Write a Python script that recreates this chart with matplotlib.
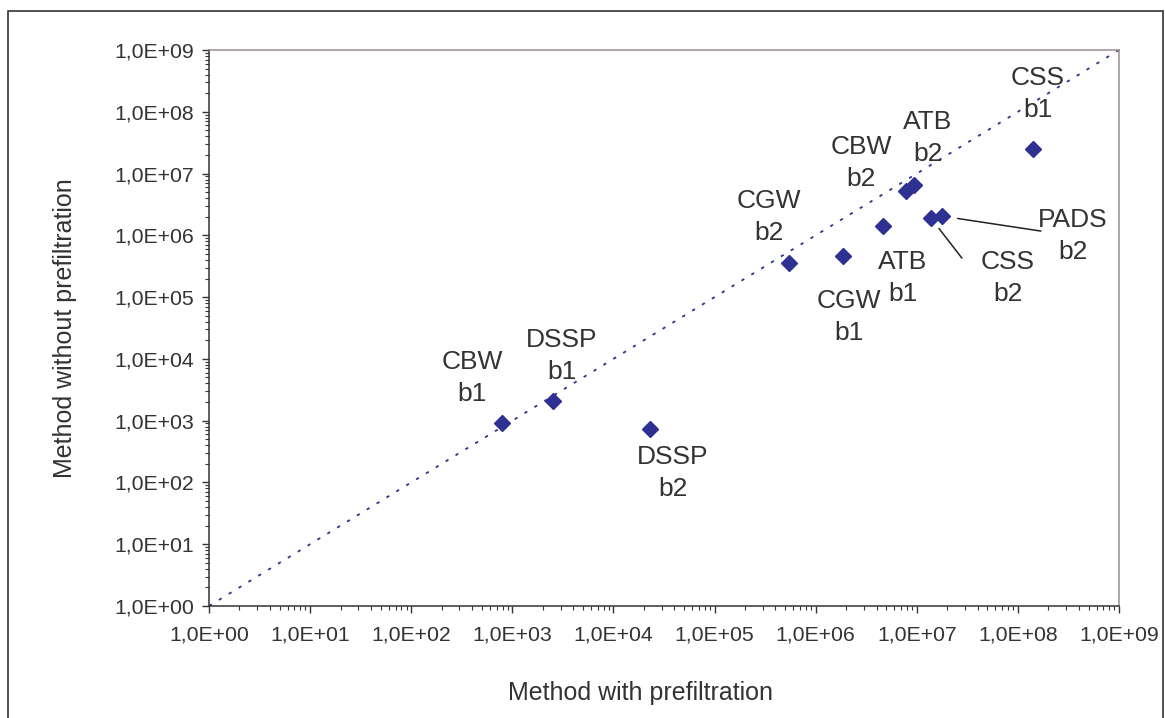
import matplotlib
matplotlib.use("Agg")
import matplotlib.pyplot as plt
import numpy as np
from matplotlib.ticker import FixedLocator, FuncFormatter, LogLocator, NullFormatter
from matplotlib.patches import Rectangle

plt.rcParams['font.family'] = ['Liberation Sans', 'DejaVu Sans']

# ---- data ----
labels = ["CBW\nb1", "DSSP\nb1", "DSSP\nb2", "CGW\nb2", "CGW\nb1", "ATB\nb1",
          "CBW\nb2", "ATB\nb2", "CSS\nb2", "PADS\nb2", "CSS\nb1"]
with_prefiltration = [7.9e2, 2.5e3, 2.3e4, 5.4e5, 1.85e6, 4.6e6,
                      7.8e6, 9.3e6, 1.38e7, 1.77e7, 1.41e8]
without_prefiltration = [9.2e2, 2.1e3, 7.3e2, 3.6e5, 4.6e5, 1.4e6,
                         5.2e6, 6.5e6, 1.9e6, 2.05e6, 2.5e7]
diag = [1e0, 1e9]
tick_values = [10.0 ** k for k in range(0, 10)]

# label offsets (pixels) from each point: (dx, dy)
label_offsets = [(-30, 45), (9, 45), (23, -44), (-20, 46), (6, -61), (20, -52),
                 (-45, 28), (14, 47), (77, -60), (131, -20), (5, 55)]
# leader lines: index -> (end offset px, shrink at point in pt)
leaders = {8: ((31, -40), 9.5), 9: ((99, -15), 11.5)}

navy = "#2E3192"
textc = "#333333"

fig = plt.figure(figsize=(11.65, 7.18), dpi=100)
ax = fig.add_axes([209 / 1165, 1 - 606 / 718, (1119 - 209) / 1165, (606 - 50) / 718])

ax.set_xscale('log')
ax.set_yscale('log')
ax.set_xlim(1, 1e9)
ax.set_ylim(1, 1e9)

ax.plot(diag, diag, color=navy, lw=1.3, linestyle=(0, (1.8, 4.6)), zorder=2)
ax.plot(with_prefiltration, without_prefiltration, linestyle='none', marker='D',
        ms=8.6, color=navy, mec=navy, zorder=3)

for i, (lab, x, y) in enumerate(zip(labels, with_prefiltration, without_prefiltration)):
    dx, dy = label_offsets[i]
    ax.annotate(lab, xy=(x, y), xytext=(dx, dy), textcoords='offset pixels',
                ha='center', va='center', fontsize=19, color=textc,
                linespacing=1.42, multialignment='center', zorder=4)
    if i in leaders:
        (ex, ey), shr = leaders[i]
        ax.annotate('', xy=(x, y), xytext=(ex, ey), textcoords='offset pixels',
                    arrowprops=dict(arrowstyle='-', color='#222222', lw=1.1,
                                    shrinkA=0, shrinkB=shr))

fmt = FuncFormatter(lambda v, p: "1,0E+%02d" % int(round(np.log10(v))))
for axis in (ax.xaxis, ax.yaxis):
    axis.set_major_locator(FixedLocator(tick_values))
    axis.set_major_formatter(fmt)
    axis.set_minor_locator(LogLocator(base=10, subs=np.arange(2, 10), numticks=100))
    axis.set_minor_formatter(NullFormatter())

ax.tick_params(which='major', direction='out', length=5, width=1, color='#333333',
               labelsize=15.3, labelcolor=textc, pad=6)
ax.tick_params(axis='x', which='major', pad=9)
ax.tick_params(which='minor', direction='out', length=3, width=0.8, color='#333333')

for s in ('left', 'bottom'):
    ax.spines[s].set_color('#333333')
    ax.spines[s].set_linewidth(1.1)
for s in ('top', 'right'):
    ax.spines[s].set_color('#9a9090')
    ax.spines[s].set_linewidth(1.1)

ax.set_xlabel("Method with prefiltration", fontsize=18, color=textc)
ax.set_ylabel("Method without prefiltration", fontsize=18, color=textc)
ax.xaxis.label.set_va('center')
ax.yaxis.label.set_va('center')
ax.xaxis.set_label_coords((640 - 209) / 910, (606 - 693) / 556)
ax.yaxis.set_label_coords((65 - 209) / 910, (606 - 328) / 556)

fig.patches.append(Rectangle((8 / 1165, -0.02), (1163 - 8) / 1165, 1 - 11 / 718 + 0.02,
                             transform=fig.transFigure, fill=False,
                             edgecolor='#333333', lw=1.2))

fig.savefig("out.png", dpi=100)
